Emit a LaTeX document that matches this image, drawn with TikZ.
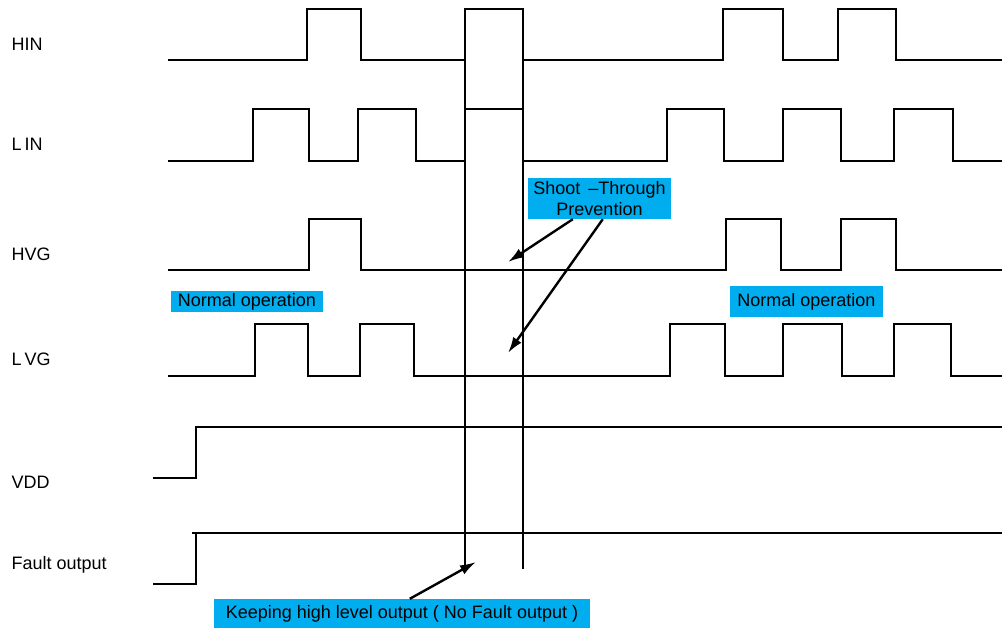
\documentclass[tikz,border=0pt]{standalone}
\usepackage{fontspec}
\setmainfont{Liberation Sans}
\usetikzlibrary{arrows.meta}
\definecolor{notebg}{HTML}{00AEEF}

\begin{document}
\begin{tikzpicture}[x=1pt,y=-1pt,
	every node/.style={black,font=\fontsize{18}{21}\selectfont},
	signal/.style={line width=2.9pt,line join=miter},
	guide/.style={line width=1.1pt},
	pointer/.style={line width=2.4pt,-{Latex[length=16pt,width=10pt]}},
	note/.style={fill=notebg,inner sep=0pt,align=center}]
	\useasboundingbox (0,0) rectangle (1002,628);

	% signal names
	\node[anchor=west] (hin)   at (8,44)  {HIN};
	\node[anchor=west] (lin)   at (8,144) {L\,IN};
	\node[anchor=west] (hvg)   at (8,254) {HVG};
	\node[anchor=west] (lvg)   at (8,359) {L\,VG};
	\node[anchor=west] (vdd)   at (8,482) {VDD};
	\node[anchor=west] (fault) at (8,565) {Fault output};

	% waveforms
	\draw[signal] (168,60) -- (307,60) -- (307,9) -- (361,9) -- (361,60) -- (465,60) -- (465,9) -- (523,9) -- (523,60)
		-- (723,60) -- (723,9) -- (783,9) -- (783,60) -- (838,60) -- (838,9) -- (896,9) -- (896,60) -- (1002,60);
	\draw[signal] (168,161) -- (253,161) -- (253,109) -- (309,109) -- (309,161) -- (358,161) -- (358,109) -- (416,109) -- (416,161)
		-- (465,161) -- (465,109) -- (523,109) -- (523,161) -- (667,161) -- (667,109) -- (724,109) -- (724,161)
		-- (783,161) -- (783,109) -- (841,109) -- (841,161) -- (894,161) -- (894,109) -- (953,109) -- (953,161) -- (1002,161);
	\draw[signal] (168,270) -- (309,270) -- (309,219) -- (361,219) -- (361,270) -- (726,270) -- (726,219) -- (781,219) -- (781,270)
		-- (841,270) -- (841,219) -- (896,219) -- (896,270) -- (1002,270);
	\draw[signal] (168,376) -- (255,376) -- (255,324) -- (308,324) -- (308,376) -- (360,376) -- (360,324) -- (414,324) -- (414,376)
		-- (670,376) -- (670,324) -- (725,324) -- (725,376) -- (783,376) -- (783,324) -- (842,324) -- (842,376)
		-- (894,376) -- (894,324) -- (951,324) -- (951,376) -- (1002,376);
	\draw[signal] (153,478) -- (196,478) -- (196,427) -- (1002,427);
	\draw[signal] (153,584) -- (196,584) -- (196,533);
	\draw[signal] (192,533) -- (1002,533);

	% timing guides
	\draw[guide] (465,9) -- (465,567);
	\draw[guide] (523,9) -- (523,569);

	% notes
	\node[note,minimum width=143pt,minimum height=41pt] (shoot) at (599.5,198.5) {Shoot \,--Through\\Prevention};
	\node[note,minimum width=152pt,minimum height=21pt] (normleft) at (247,301.5) {Normal operation};
	\node[note,minimum width=153pt,minimum height=31pt] (normright) at (806.5,301.5) {Normal operation};
	\node[note,minimum width=376pt,minimum height=29pt] (keep) at (402,613.5) {Keeping high level output ( No Fault output )};

	\coordinate (hvgtip) at (508,262);
	\coordinate (lvgtip) at (508,353);
	\coordinate (faulttip) at (476,562);

	\draw[pointer] ([xshift=45pt]shoot.south west) -- (hvgtip);
	\draw[pointer] ([xshift=75pt]shoot.south west) -- (lvgtip);
	\draw[pointer] ([xshift=196pt]keep.north west) -- (faulttip);
\end{tikzpicture}
\end{document}
